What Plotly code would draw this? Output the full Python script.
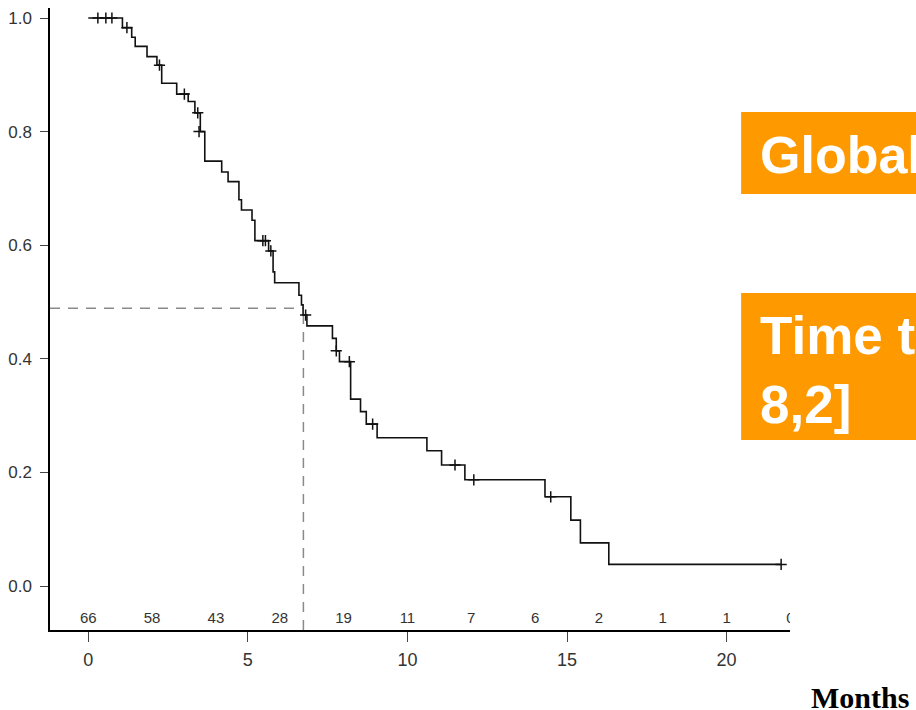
import plotly.graph_objects as go

# ---- data ----
step_time = [0, 1.07, 1.36, 1.47, 1.84, 2.15, 2.30, 2.77, 3.13, 3.34, 3.51, 3.65,
             4.18, 4.38, 4.72, 4.80, 5.13, 5.22, 5.65, 5.79, 5.84, 6.60, 6.68, 6.73,
             6.85, 7.65, 7.77, 7.87, 8.22, 8.53, 8.71, 9.05, 10.61, 11.07, 11.80,
             14.31, 15.12, 15.42, 16.31, 21.71]
step_surv = [1.0, 0.983, 0.966, 0.950, 0.932, 0.917, 0.885, 0.866, 0.853, 0.833, 0.800, 0.748,
             0.729, 0.712, 0.680, 0.662, 0.644, 0.608, 0.590, 0.553, 0.534, 0.512, 0.495, 0.477,
             0.458, 0.436, 0.414, 0.395, 0.329, 0.307, 0.285, 0.261, 0.238, 0.213, 0.187,
             0.157, 0.116, 0.076, 0.038, 0.038]

censor_time = [0.30, 0.55, 0.74, 1.21, 2.23, 3.01, 3.43, 3.47, 5.47, 5.55, 5.72,
               6.81, 7.77, 8.18, 8.91, 11.49, 12.08, 14.49, 21.71]
censor_surv = [1.0, 1.0, 1.0, 0.983, 0.917, 0.866, 0.833, 0.800, 0.608, 0.608, 0.590,
               0.477, 0.414, 0.395, 0.285, 0.213, 0.187, 0.157, 0.038]

risk_time = [0, 2, 4, 6, 8, 10, 12, 14, 16, 18, 20, 22]
risk_n = [66, 58, 43, 28, 19, 11, 7, 6, 2, 1, 1, 0]

median_time = 6.74
median_surv = 0.489

x_ticks = [0, 5, 10, 15, 20]
y_ticks = [0.0, 0.2, 0.4, 0.6, 0.8, 1.0]

box1_text = "Global survival"
box2_text = "Time to progression: 6,7 [5,3 -<br>8,2]"
x_title = "Months"

# ---- layout geometry (pixels) ----
W, H = 916, 710
L, R, T, B = 48, 790, 8, 630


def px_x(p):
    return (p - L) / (R - L)


def px_y(p):
    return (B - p) / (B - T)


NARROW = "Liberation Sans Narrow, Arial Narrow, Liberation Sans, sans-serif"
ORANGE = "#FF9900"

fig = go.Figure()

fig.add_trace(go.Scatter(
    x=step_time, y=step_surv, mode="lines",
    line=dict(shape="hv", color="#111111", width=1.6),
    hoverinfo="skip", showlegend=False))

fig.add_trace(go.Scatter(
    x=censor_time, y=censor_surv, mode="markers",
    marker=dict(symbol="cross-thin", size=8, line=dict(color="#111111", width=1.5)),
    hoverinfo="skip", showlegend=False))

fig.add_trace(go.Scatter(
    x=risk_time, y=[-0.058] * len(risk_time), mode="text",
    text=[str(n) for n in risk_n],
    textfont=dict(family=NARROW, size=15, color="#333333"),
    cliponaxis=True, hoverinfo="skip", showlegend=False))

dash_line = dict(color="#8a8a8a", width=1.5, dash="10px,8px")
fig.add_shape(type="line", xref="paper", yref="y", x0=0, x1=px_x(86.4 + 32 * median_time),
              y0=median_surv, y1=median_surv, line=dash_line, layer="below")
fig.add_shape(type="line", xref="x", yref="paper", x0=median_time, x1=median_time,
              y0=0, y1=px_y(586 - 568 * median_surv), line=dash_line, layer="below")

# orange boxes
fig.add_shape(type="rect", xref="paper", yref="paper",
              x0=px_x(741), x1=px_x(930), y0=px_y(194), y1=px_y(112),
              fillcolor=ORANGE, line=dict(width=0))
fig.add_shape(type="rect", xref="paper", yref="paper",
              x0=px_x(741), x1=px_x(930), y0=px_y(440), y1=px_y(293),
              fillcolor=ORANGE, line=dict(width=0))

box_font = dict(family="Liberation Sans, Arial, sans-serif", size=52, color="white", weight="bold")
fig.add_annotation(x=px_x(758), y=px_y(155), xref="paper", yref="paper",
                   text=box1_text, showarrow=False, xanchor="left", yanchor="middle",
                   align="left", font=box_font)
fig.add_annotation(x=px_x(758), y=px_y(370), xref="paper", yref="paper",
                   text=box2_text, showarrow=False, xanchor="left", yanchor="middle",
                   align="left", font=dict(box_font, size=53))

fig.add_annotation(x=px_x(860), y=px_y(697), xref="paper", yref="paper",
                   text=x_title, showarrow=False, xanchor="center", yanchor="middle",
                   font=dict(family="Liberation Serif, Times New Roman, serif", size=30,
                             color="#000000", weight="bold"))

y_lo = (586 - B) / 568
y_hi = (586 - T) / 568
x_lo = (L - 86.4) / 32
x_hi = (R - 86.4) / 32

fig.update_layout(
    width=W, height=H,
    margin=dict(l=L, r=W - R, t=T, b=H - B, pad=0),
    paper_bgcolor="white", plot_bgcolor="white",
    showlegend=False,
    xaxis=dict(range=[x_lo, x_hi], tickvals=x_ticks, ticktext=[str(v) for v in x_ticks],
               showgrid=False, zeroline=False, showline=True, linecolor="#000000",
               linewidth=1.5, ticks="outside", ticklen=10, tickwidth=1.2,
               tickcolor="#444444", ticklabelstandoff=3,
               tickfont=dict(family=NARROW, size=18, color="#333333")),
    yaxis=dict(range=[y_lo, y_hi], tickvals=y_ticks, ticktext=[f"{v:.1f}" for v in y_ticks],
               showgrid=False, zeroline=False, showline=True, linecolor="#000000",
               linewidth=1.5, ticks="outside", ticklen=8, tickwidth=1.2,
               tickcolor="#444444", ticklabelstandoff=5,
               tickfont=dict(family=NARROW, size=17, color="#333333")),
)

fig.write_html("out.html")
